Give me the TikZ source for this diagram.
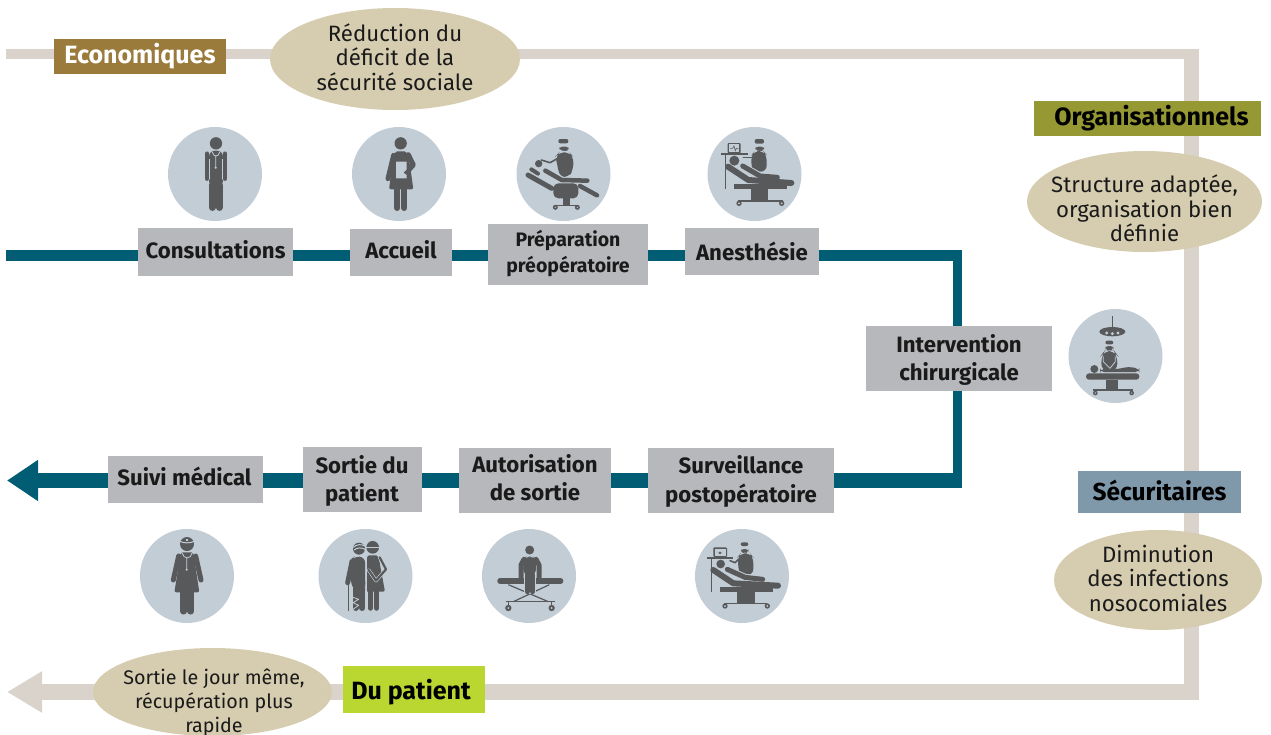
\documentclass[tikz,border=0pt]{standalone}
\usepackage{fontspec}
\setmainfont{Fira Sans}
\usetikzlibrary{arrows.meta,shapes.geometric,backgrounds}
\definecolor{tealc}{HTML}{005D73}
\definecolor{beigel}{HTML}{DAD3CC}
\definecolor{ellc}{HTML}{D6CDB0}
\definecolor{boxc}{HTML}{B7B8BB}
\definecolor{circc}{HTML}{C3CDD6}
\definecolor{icc}{HTML}{58595B}
\definecolor{txt}{HTML}{1A1A1A}
\definecolor{ecoc}{HTML}{9A7B3C}
\definecolor{orgc}{HTML}{969833}
\definecolor{secc}{HTML}{7F99AB}
\definecolor{patc}{HTML}{BAD630}
\tikzset{
  stepbox/.style={fill=boxc,inner sep=0pt},
  steptext/.style={text=txt,inner sep=0pt,align=center,font=\fontsize{22.2}{28}\selectfont\bfseries},
  cat/.style={inner sep=0pt},
  cattext/.style={inner sep=0pt,align=center,font=\fontsize{25}{28}\selectfont\bfseries},
  ell/.style={ellipse,fill=ellc,inner sep=0pt},
  elltext/.style={text=txt,inner sep=0pt,align=center,font=\fontsize{22.2}{24.5}\selectfont},
  disc/.style={circle,fill=circc,minimum size=94pt,inner sep=0pt},
  tealline/.style={draw=tealc,line join=miter},
  beigeline/.style={draw=beigel},
  zoomAt/.style args={#1,#2}{shift={(#1,#2)},scale=1/3},
  ic/.style={fill=icc},
  icl/.style={draw=icc,line cap=round,line join=round},
  lite/.style={draw=circc,line cap=round,line join=round},
}
\begin{document}
\begin{tikzpicture}[x=1pt,y=-1pt]
\useasboundingbox (0,0) rectangle (1271,734);
% discs
\node[disc] (d1) at (215,174) {};
\node[disc] (d2) at (399,174) {};
\node[disc] (d3) at (563.5,174) {};
\node[disc] (d4) at (754.5,174) {};
\node[disc] (d5) at (1115.5,356) {};
\node[disc] (d6) at (187,576) {};
\node[disc] (d7) at (365.5,576) {};
\node[disc] (d8) at (529,576) {};
\node[disc] (d9) at (742,576) {};
% step boxes
\node[stepbox,minimum width=155pt,minimum height=48pt,label={[steptext,yshift=2pt]center:Consultations}] (consult) at (215.5,252) {};
\node[stepbox,minimum width=102pt,minimum height=47pt,label={[steptext,yshift=3pt]center:Accueil}] (accueil) at (401,252.5) {};
\node[stepbox,minimum width=160pt,minimum height=61pt,label={[steptext,yshift=1pt,font=\fontsize{19.5}{26}\selectfont\bfseries]center:{Préparation\\préopératoire}}] (prep) at (568,254.5) {};
\node[stepbox,minimum width=134pt,minimum height=47pt,label={[steptext]center:Anesthésie}] (anes) at (752,251.5) {};
\node[stepbox,minimum width=186pt,minimum height=65pt,label={[steptext,yshift=-1pt]center:{Intervention\\chirurgicale}}] (interv) at (959,358.5) {};
\node[stepbox,minimum width=186pt,minimum height=65pt,label={[steptext,yshift=-1pt,font=\fontsize{22.2}{29}\selectfont\bfseries]center:{Surveillance\\postopératoire}}] (surv) at (741,480.5) {};
\node[stepbox,minimum width=152pt,minimum height=65pt,label={[steptext,yshift=3pt]center:{Autorisation\\de sortie}}] (autor) at (535,480.5) {};
\node[stepbox,minimum width=119pt,minimum height=65pt,label={[steptext,yshift=-1pt]center:{Sortie du\\patient}}] (sortiep) at (362,479.5) {};
\node[stepbox,minimum width=155pt,minimum height=47pt,label={[steptext,yshift=3pt,xshift=-1pt]center:Suivi médical}] (suivi) at (185.5,479.5) {};
% categories
\node[cat,fill=ecoc,minimum width=172pt,minimum height=35pt,label={[cattext,text=white]center:Economiques}] (eco) at (140,56.5) {};
\node[cat,fill=orgc,minimum width=227pt,minimum height=35pt,label={[cattext,text=black,xshift=4pt]center:Organisationnels}] (org) at (1147.5,118.5) {};
\node[cat,fill=secc,minimum width=163pt,minimum height=42pt,label={[cattext,text=black,yshift=2pt,font=\fontsize{24.5}{28}\selectfont\bfseries]center:Sécuritaires}] (sec) at (1159.5,492) {};
\node[cat,fill=patc,minimum width=142pt,minimum height=47pt,label={[cattext,text=black,xshift=-3pt,yshift=-2.5pt]center:Du patient}] (pat) at (414,689.5) {};
% ellipses
\node[ell,minimum width=250pt,minimum height=102pt,label={[elltext,yshift=2pt]center:{Réduction du\\déficit de la\\sécurité sociale}}] (e1) at (395,59) {};
\node[ell,minimum width=235pt,minimum height=101pt,label={[elltext,yshift=-7pt]center:{Structure adaptée,\\organisation bien\\définie}}] (e2) at (1144.5,201.5) {};
\node[ell,minimum width=208pt,minimum height=100pt,label={[elltext,yshift=2pt]center:{Diminution\\des infections\\nosocomiales}}] (e3) at (1158,580) {};
\node[ell,minimum width=239pt,minimum height=88pt,label={[elltext,yshift=-10.5pt,xshift=1.5pt,font=\fontsize{19.7}{24}\selectfont]center:{Sortie le jour même,\\récupération plus\\rapide}}] (e4) at (212.5,692) {};
% connector coordinates
\coordinate (t0) at (6,255.5);
\coordinate (tc0) at (962,255.5);
\coordinate (tc1) at (957.3,250);
\coordinate (tc2) at (957.3,488);
\coordinate (tc3) at (962,480.5);
\coordinate (t9) at (7,480.5);
\coordinate (b0) at (6,54);
\coordinate (bc0) at (1199,54);
\coordinate (bc1) at (1191.5,49);
\coordinate (bc2) at (1191.5,699);
\coordinate (bc3) at (1199,692);
\coordinate (b9) at (7,692);
\begin{pgfonlayer}{background}
\draw[beigeline,line width=10.4pt] (b0) -- (eco.center |- b0) -- (e1.center |- b0) -- (bc0);
\draw[beigeline,line width=15pt] (bc1) -- (bc2);
\draw[beigeline,line width=16pt,-{Triangle[length=35pt,width=39pt]}] (bc3) -- (pat.center |- bc3) -- (e4.center |- bc3) -- (b9);
\draw[tealline,line width=11pt] (t0) -- (consult.center |- t0) -- (accueil.center |- t0) -- (prep.center |- t0) -- (anes.center |- t0) -- (tc0);
\draw[tealline,line width=9pt] (tc1) -- (interv.center -| tc1) -- (tc2);
\draw[tealline,line width=15pt,-{Triangle[length=31pt,width=39pt]}] (tc3) -- (surv.center |- tc3) -- (autor.center |- tc3) -- (sortiep.center |- tc3) -- (suivi.center |- tc3) -- (t9);
\end{pgfonlayer}
% ---- icons
% 1 doctor, 2 woman
\begin{scope}[zoomAt={150,120}]
\fill[ic] (198,70) circle (18.5);
\fill[ic,rounded corners=6] (177,200)--(177,92)--(219,92)--(219,200)--cycle;
\draw[icl,line width=4.5pt] (171,101)--(171,176) (225,101)--(225,176);
\draw[icl,line width=6.5pt] (187,195)--(187,263) (208,195)--(208,263);
\draw[lite,line width=.4pt] (178,118)--(178,178) (218,118)--(218,178);
\draw[lite,line width=.8pt] (187,96) .. controls (190,112) and (206,112) .. (209,96) (197,110)--(197,142);
\fill[circc] (197,143) circle (3.5);
\fill[ic] (752,70) circle (18.5);
\fill[ic,rounded corners=2] (735,94)--(770,94)--(780,135)--(790,208)--(717,208)--(727,135)--cycle;
\draw[icl,line width=5pt] (731,106)--(714,176);
\draw[icl,line width=5pt] (775,104)--(790,135)--(768,158);
\draw[icl,line width=6pt] (742,205)--(742,264) (763,205)--(763,264);
\fill[circc] (738,125)--(770,125)--(770,148)--(760,158)--(770,165)--(770,175)--(738,175)--cycle;
\end{scope}
% 3 chair, 4 anaesthesia
\begin{scope}[zoomAt={500,120}]
\fill[ic,rounded corners=2] (175,57)--(205,57)--(205,70)--(175,70)--cycle;
\fill[ic,rounded corners=3] (178,80)--(206,80)--(206,90)--(195,94)--(178,90)--cycle;
\fill[ic,rounded corners=6] (167,108)--(178,97)--(208,97)--(220,110)--(220,150)--(205,172)--(180,172)--(170,128)--cycle;
\draw[icl,line width=1.6pt] (172,116)--(150,128)--(124,120);
\fill[ic] (116,131) circle (11);
\draw[icl,line width=5pt] (84,165)--(155,205);
\draw[icl,line width=4pt] (94,148)--(114,161);
\draw[lite,line width=6.5pt] (136,152)--(185,180)--(262,182);
\draw[icl,line width=4.5pt] (136,152)--(185,180)--(262,182);
\fill[ic,rounded corners=5] (160,190)--(235,190)--(235,235)--(160,235)--cycle;
\draw[icl,line width=4.5pt] (240,198)--(291,226);
\fill[ic] (188,235) rectangle (211,255);
\draw[icc,line width=1pt] (165,256)--(235,256);
\fill[ic] (166,262) circle (7.5) (232,262) circle (7.5);
\fill[circc] (166,262) circle (2) (232,262) circle (2);
% 4
\fill[ic,rounded corners=1] (683,69) rectangle (722,100);
\fill[circc] (687,73) rectangle (718,96);
\draw[icc,line width=.6pt] (690,85)--(698,85)--(702,78)--(706,92)--(709,85)--(716,85);
\fill[ic] (663,98) rectangle (745,106);
\draw[icc,line width=1pt] (677,106)--(677,206);
\fill[ic,rounded corners=2] (764,57)--(792,57)--(792,71)--(764,71)--cycle;
\fill[ic,rounded corners=3] (766,80)--(792,80)--(792,90)--(780,94)--(766,90)--cycle;
\fill[ic,rounded corners=6] (753,108)--(763,93)--(790,93)--(800,105)--(800,155)--(756,155)--cycle;
\draw[icl,line width=1.6pt] (755,112)--(730,112);
\fill[ic] (703,122) circle (15);
\draw[lite,line width=7pt] (728,138)--(780,168)--(832,172);
\draw[icl,line width=5pt] (728,138)--(780,168)--(832,172);
\draw[icl,line width=6pt] (684,140)--(745,180)--(874,189);
\fill[ic] (702,192) rectangle (860,207);
\fill[ic] (752,207) rectangle (805,243);
\draw[icc,line width=1.5pt] (714,243)--(848,243);
\fill[ic] (717,250) circle (8) (845,250) circle (8);
\fill[circc] (717,250) circle (3) (845,250) circle (3);
\end{scope}
% 5 operating
\begin{scope}[zoomAt={1050,300}]
\draw[icc,line width=1.2pt] (187,48)--(187,82);
\fill[ic] (187,95) ellipse (39 and 14);
\fill[circc] (170,99) circle (5) (187,101) circle (5) (204,99) circle (5);
\fill[ic,rounded corners=2] (166,122)--(190,122)--(190,133)--(166,133)--cycle;
\fill[ic,rounded corners=3] (166,138)--(190,138)--(190,148)--(178,152)--(166,148)--cycle;
\fill[ic,rounded corners=8] (154,165)--(164,152)--(192,152)--(202,165)--(202,215)--(154,215)--cycle;
\draw[lite,line width=.8pt] (160,170)--(160,185)--(180,205)--(196,185)--(196,170);
\fill[ic] (133,207) circle (12);
\fill[ic,rounded corners=4] (150,207)--(205,207)--(235,200)--(268,206)--(268,216)--(150,216)--cycle;
\fill[ic,rounded corners=3] (108,220) rectangle (268,239);
\fill[ic] (167,239) rectangle (205,268);
\draw[icc,line width=1.5pt] (130,270)--(250,270);
\fill[ic] (136,279) circle (7) (245,279) circle (7);
\fill[circc] (136,279) circle (2) (245,279) circle (2);
\end{scope}
% 6 nurse, 7 couple
\begin{scope}[zoomAt={130,520}]
\fill[ic] (171,72) circle (21);
\draw[circc,line width=1pt] (150,64) .. controls (160,70) and (182,70) .. (192,64);
\fill[circc] (168,57) rectangle (174,63);
\fill[ic,rounded corners=2] (152,97)--(190,97)--(198,150)--(208,217)--(133,217)--(144,150)--cycle;
\draw[icl,line width=5pt] (146,108)--(130,180);
\draw[icl,line width=5pt] (197,108)--(213,180);
\draw[icl,line width=6.5pt] (161,212)--(161,274) (182,212)--(182,274);
\draw[lite,line width=.8pt] (157,100) .. controls (160,118) and (183,118) .. (186,100) (170,113)--(170,148);
\fill[circc] (170,149) circle (3.5);
% couple
\fill[ic] (687,86) circle (18);
\draw[circc,line width=1pt] (670,82) .. controls (680,72) and (695,72) .. (704,78) (672,90) .. controls (682,82) and (695,82) .. (705,88);
\fill[ic] (728,82) circle (19);
\draw[circc,line width=1pt] (708,82)--(748,82);
\fill[ic,rounded corners=6] (660,120)--(672,110)--(705,110)--(706,210)--(668,210)--(660,165)--cycle;
\draw[icl,line width=6pt] (677,205)--(677,264) (697,205)--(697,264);
\draw[icl,line width=5pt] (666,125)--(653,188);
\draw[icc,line width=1pt] (654,190)--(654,273);
\fill[ic,rounded corners=2] (712,106)--(745,106)--(753,150)--(765,215)--(707,215)--cycle;
\draw[lite,line width=1pt] (708,110)--(708,215);
\draw[icl,line width=5.5pt] (721,212)--(721,264) (740,212)--(740,264);
\draw[lite,line width=3.5pt] (749,112)--(768,148)--(738,182)--(716,150);
\draw[icl,line width=2.2pt] (749,112)--(768,148)--(738,182)--(716,150);
\draw[lite,line width=.8pt] (669,232)--(686,238)--(669,248)--(686,256)--(669,268);
\end{scope}
% 8 seated, 9 post-op
\begin{scope}[zoomAt={470,520}]
\fill[ic] (179,90) circle (13.5);
\draw[icc,line width=1.2pt] (115,194)--(235,245) (238,194)--(130,245);
\draw[icc,line width=1.2pt] (107,245)--(255,245) (115,245)--(115,256) (245,245)--(245,256);
\fill[ic] (115,264) circle (9.5) (245,264) circle (9.5);
\fill[circc] (115,264) circle (3) (245,264) circle (3);
\draw[icc,line width=5.5pt,line cap=round] (90,183)--(272,183);
\fill[ic,rounded corners=5] (160,118)--(168,110)--(190,110)--(198,118)--(198,165)--(160,165)--cycle;
\draw[icl,line width=5pt] (162,118)--(153,135)--(153,172);
\draw[icl,line width=5pt] (198,118)--(207,135)--(207,172);
\draw[lite,line width=12pt,line cap=butt] (180,165)--(180,222);
\draw[icl,line width=5pt] (172,165)--(172,215) (188,165)--(188,215);
% 9
\fill[ic,rounded corners=1] (730,82) rectangle (771,111);
\fill[circc] (734,86) rectangle (767,109);
\fill[ic] (750,103) -- (742,95) arc (180:0:4) arc (180:0:4) -- cycle;
\fill[ic] (710,110) rectangle (790,117);
\draw[icc,line width=1pt] (725,117)--(725,215);
\fill[ic,rounded corners=2] (812,67)--(835,67)--(835,78)--(812,78)--cycle;
\fill[ic,rounded corners=3] (813,87)--(835,87)--(835,96)--(824,100)--(813,96)--cycle;
\fill[ic,rounded corners=6] (802,112)--(812,100)--(840,100)--(850,112)--(850,165)--(808,165)--cycle;
\draw[icl,line width=1.6pt] (805,118)--(795,128)--(780,122);
\fill[ic] (752,132) circle (13);
\draw[lite,line width=7pt] (772,148)--(825,172)--(878,178);
\draw[icl,line width=5pt] (772,148)--(825,172)--(878,178);
\draw[icl,line width=6pt] (730,150)--(790,190)--(924,197);
\fill[ic] (750,200) rectangle (910,215);
\fill[ic] (802,215) rectangle (855,250);
\draw[icc,line width=1.5pt] (762,250)--(890,250);
\fill[ic] (765,258) circle (8) (892,258) circle (8);
\fill[circc] (765,258) circle (3) (892,258) circle (3);
\end{scope}
\end{tikzpicture}
\end{document}
